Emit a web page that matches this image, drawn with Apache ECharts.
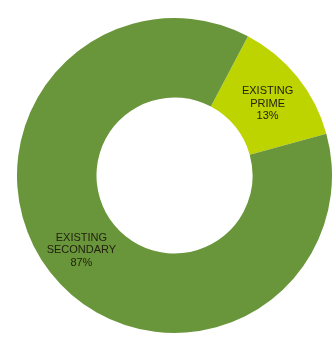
<!DOCTYPE html>
<html>
<head>
<meta charset="utf-8">
<style>
  html, body { margin: 0; padding: 0; background: #ffffff; }
  #chart { width: 335px; height: 338px; }
</style>
<script src="https://cdn.jsdelivr.net/npm/echarts@6/dist/echarts.min.js"></script>
</head>
<body>
<div id="chart"></div>
<script>
// Share of existing stock by grade
const categories = ['EXISTING\nPRIME', 'EXISTING\nSECONDARY'];
const shares = [13, 87];
const colors = ['#BED400', '#6A963B'];
const labelNudges = [[-1, 4], [1, -1]];

const chart = echarts.init(document.getElementById('chart'), null, { renderer: 'canvas' });

chart.setOption({
  animation: false,
  series: [{
    type: 'pie',
    center: [174.5, 175.5],
    radius: [78, 157.5],
    startAngle: 62.2,
    clockwise: true,
    avoidLabelOverlap: false,
    silent: true,
    itemStyle: { borderWidth: 0 },
    label: {
      show: true,
      position: 'inside',
      color: '#22220f',
      fontFamily: 'Liberation Sans, Arial, sans-serif',
      fontSize: 11,
      lineHeight: 12.5,
      align: 'center',
      formatter: p => p.name + '\n' + p.value + '%'
    },
    labelLine: { show: false },
    data: categories.map((name, i) => ({
      name,
      value: shares[i],
      itemStyle: { color: colors[i] },
      label: { offset: labelNudges[i] }
    }))
  }]
});
</script>
</body>
</html>
